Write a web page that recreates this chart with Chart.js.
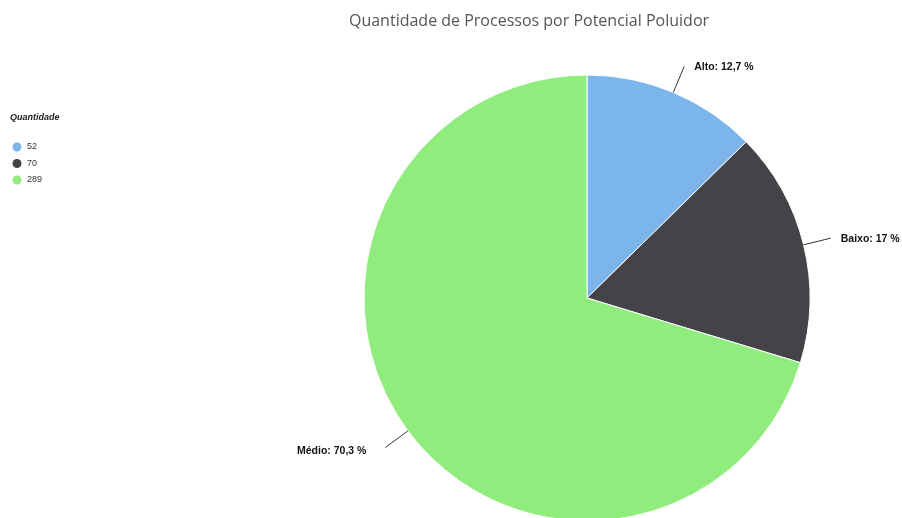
<!DOCTYPE html>
<html lang="pt-BR">
<head>
<meta charset="UTF-8">
<title>Quantidade de Processos por Potencial Poluidor</title>
<script src="https://cdn.jsdelivr.net/npm/chart.js"></script>
<style>
  html, body { margin: 0; padding: 0; background: #fff; }
  #wrap { width: 902px; height: 518px; position: relative; }
</style>
</head>
<body>
<div id="wrap"><canvas id="grafico" width="902" height="518"></canvas></div>
<script>
// dados
const categorias = ['Alto', 'Baixo', 'Médio'];
const quantidades = [52, 70, 289];
const cores = ['#7cb5ec', '#434348', '#90ed7d'];
const tituloGrafico = 'Quantidade de Processos por Potencial Poluidor';
const tituloLegenda = 'Quantidade';

const total = quantidades.reduce((a, b) => a + b, 0);

function formataPct(v) {
    const p = Number((v / total * 100).toFixed(1));
    return String(p).replace('.', ',') + ' %';
}

// titulo, legenda e rótulos com linha de ligação
const extras = {
    id: 'extras',
    afterDatasetsDraw(chart) {
        const ctx = chart.ctx;
        ctx.save();

        // titulo
        ctx.fillStyle = '#555';
        ctx.font = '16px "Open Sans"';
        ctx.textAlign = 'center';
        ctx.textBaseline = 'middle';
        ctx.fillText(tituloGrafico, 529, 21);

        // legenda
        ctx.textAlign = 'left';
        ctx.fillStyle = '#222';
        ctx.font = 'italic bold 9px "Liberation Sans"';
        ctx.fillText(tituloLegenda, 10, 118);
        ctx.font = '9px "Liberation Sans"';
        quantidades.forEach((q, i) => {
            const y = 147 + i * 16.5;
            ctx.beginPath();
            ctx.arc(17, y, 4.5, 0, Math.PI * 2);
            ctx.fillStyle = cores[i];
            ctx.fill();
            ctx.fillStyle = '#333';
            ctx.fillText(String(q), 27, y);
        });

        // rótulos das fatias
        const meta = chart.getDatasetMeta(0);
        ctx.font = 'bold 10.5px "Liberation Sans"';
        ctx.fillStyle = '#111';
        meta.data.forEach((arc, i) => {
            const p = arc.getProps(['x', 'y', 'startAngle', 'endAngle', 'outerRadius'], true);
            const meio = (p.startAngle + p.endAngle) / 2;
            const cx = Math.cos(meio), cy = Math.sin(meio);
            const x1 = p.x + cx * p.outerRadius, y1 = p.y + cy * p.outerRadius;
            const x2 = p.x + cx * (p.outerRadius + 28), y2 = p.y + cy * (p.outerRadius + 28);
            ctx.beginPath();
            ctx.moveTo(x1, y1);
            ctx.lineTo(x2, y2);
            ctx.strokeStyle = '#333';
            ctx.lineWidth = 1;
            ctx.stroke();
            const txt = categorias[i] + ': ' + formataPct(quantidades[i]);
            if (cx >= 0) {
                ctx.textAlign = 'left';
                ctx.fillText(txt, x2 + 10, y2 + 1);
            } else {
                ctx.textAlign = 'right';
                ctx.fillText(txt, x2 - 19, y2 + 4);
            }
        });
        ctx.restore();
    }
};

new Chart(document.getElementById('grafico').getContext('2d'), {
    type: 'pie',
    data: {
        labels: categorias,
        datasets: [{
            data: quantidades,
            backgroundColor: cores,
            borderColor: '#fff',
            borderWidth: 1,
            radius: 223,
            clip: false
        }]
    },
    options: {
        responsive: false,
        animation: false,
        layout: { padding: { left: 272, right: 0, top: 78, bottom: 0 } },
        plugins: {
            legend: { display: false },
            title: { display: false },
            tooltip: { enabled: false }
        }
    },
    plugins: [extras]
});
</script>
</body>
</html>
